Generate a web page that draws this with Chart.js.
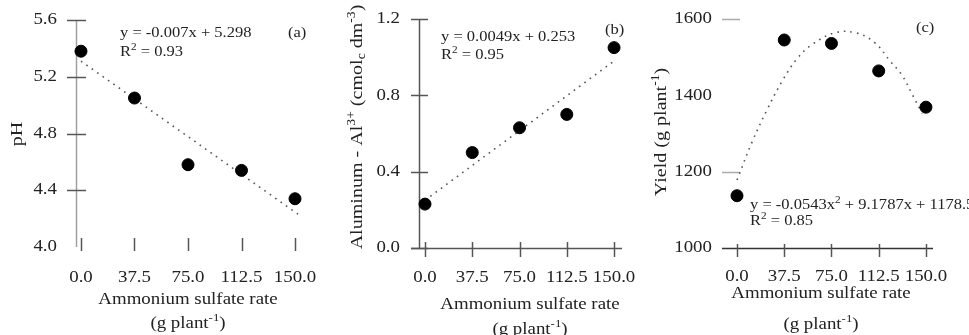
<!DOCTYPE html>
<html><head><meta charset="utf-8">
<script src="https://cdn.jsdelivr.net/npm/chart.js@4"></script>
<style>
html,body{margin:0;padding:0;background:#fff;}
#wrap{position:relative;width:969px;height:335px;overflow:hidden;background:#fff;}
canvas{position:absolute;top:0;}
</style>
</head><body><div id="wrap">
<canvas id="ca" width="320" height="335" style="left:0px"></canvas>
<canvas id="cb" width="320" height="335" style="left:320px"></canvas>
<canvas id="cc" width="329" height="335" style="left:640px"></canvas>
</div>
<script>
// ---------- data ----------
const rates = [0, 37.5, 75, 112.5, 150];
const xTickValues = [0, 37.5, 75, 112.5, 150];

const phValues = [5.38, 5.05, 4.58, 4.54, 4.34];
const phTrendX = [0, 152.3];
const phTrendY = [5.31, 4.23];
const phTicks = [4.0, 4.4, 4.8, 5.2, 5.6];

const alValues = [0.23, 0.50, 0.63, 0.70, 1.05];
const alTrendX = [0, 150];
const alTrendY = [0.25, 0.98];
const alTicks = [0.0, 0.4, 0.8, 1.2];

const yieldValues = [1137, 1545, 1536, 1464, 1369];
const yieldTrendX = [0, 12, 24, 36, 48, 60, 78, 94, 109, 122, 131, 139, 147];
const yieldTrendY = [1178, 1278, 1363, 1438, 1497, 1534, 1564, 1564, 1539, 1488, 1453, 1403, 1353];
const yieldTicks = [1000, 1200, 1400, 1600];

const xTitle1 = [{t:'Ammonium sulfate rate'}];
const xTitle2 = [{t:'(g plant'},{t:'-1',s:'sup'},{t:')'}];

// ---------- helpers ----------
const FONT = '"Liberation Serif", "Times New Roman", serif';
const TXT = '#222';
const STRETCH = 1.18;

function richWidth(ctx, segs, size){
  let w = 0;
  for (const s of segs){
    ctx.font = (s.s ? size*0.68 : size) + 'px ' + FONT;
    w += ctx.measureText(s.t).width;
  }
  return w;
}
function drawRich(ctx, segs, x, y, size, align){
  const w = richWidth(ctx, segs, size);
  ctx.save();
  ctx.translate(x, y);
  ctx.scale(STRETCH, 1);
  let cx = align === 'center' ? -w/2 : (align === 'right' ? -w : 0);
  ctx.textBaseline = 'middle';
  ctx.textAlign = 'left';
  ctx.fillStyle = TXT;
  for (const s of segs){
    const fs = s.s ? size*0.68 : size;
    ctx.font = fs + 'px ' + FONT;
    let dy = 0;
    if (s.s === 'sup') dy = -size*0.35;
    if (s.s === 'sub') dy = size*0.25;
    ctx.fillText(s.t, cx, dy);
    cx += ctx.measureText(s.t).width;
  }
  ctx.restore();
}

function pairs(xs, ys){ return xs.map((x,i)=>({x:x, y:ys[i]})); }

function makePanel(canvasId, p){
  const plugin = {
    id: 'deco_' + canvasId,
    beforeDatasetsDraw(chart){
      const ctx = chart.ctx, xs = chart.scales.x, ys = chart.scales.y, a = chart.chartArea;
      ctx.save();
      if (p.yLine){
        ctx.strokeStyle = p.yLine.color; ctx.lineWidth = p.yLine.width;
        ctx.beginPath(); ctx.moveTo(a.left + 0.5, a.top); ctx.lineTo(a.left + 0.5, a.bottom); ctx.stroke();
      }
      ctx.strokeStyle = p.yTick.color; ctx.lineWidth = 1.5;
      for (const v of p.yTicks){
        if (p.yTick.skip && p.yTick.skip.includes(v)) continue;
        const py = Math.round(ys.getPixelForValue(v)) + 0.5;
        ctx.beginPath(); ctx.moveTo(a.left - p.yTick.l, py); ctx.lineTo(a.left + p.yTick.r, py); ctx.stroke();
      }
      if (p.xLine){
        ctx.strokeStyle = p.xLine.color; ctx.lineWidth = p.xLine.width;
        ctx.beginPath(); ctx.moveTo(a.left - p.xLine.ext, a.bottom + 0.5); ctx.lineTo(a.right, a.bottom + 0.5); ctx.stroke();
      }
      ctx.strokeStyle = p.xTick.color; ctx.lineWidth = 1.5;
      for (const v of xTickValues){
        const px = Math.round(xs.getPixelForValue(v)) + 0.5;
        ctx.beginPath(); ctx.moveTo(px, a.bottom - p.xTick.up); ctx.lineTo(px, a.bottom + p.xTick.down); ctx.stroke();
      }
      ctx.restore();
    },
    afterDraw(chart){
      const ctx = chart.ctx, xs = chart.scales.x, ys = chart.scales.y, a = chart.chartArea;
      ctx.save();
      for (const v of p.yTicks){
        drawRich(ctx, [{t:p.yFmt(v)}], a.left - p.yLabelGap, ys.getPixelForValue(v), p.tickSize, 'right');
      }
      for (const v of xTickValues){
        drawRich(ctx, [{t:v.toFixed(1)}], xs.getPixelForValue(v), p.xLabelY, p.tickSize, 'center');
      }
      drawRich(ctx, xTitle1, p.xTitleX, p.xTitleY1, p.titleSize, 'center');
      drawRich(ctx, xTitle2, p.xTitleX, p.xTitleY2, p.titleSize, 'center');
      ctx.save();
      ctx.translate(p.yTitleX, p.yTitleY);
      ctx.rotate(-Math.PI/2);
      drawRich(ctx, p.yTitle, 0, 0, p.yTitleSize, 'center');
      ctx.restore();
      drawRich(ctx, p.eq, p.eqX, p.eqY, p.eqSize, 'left');
      drawRich(ctx, p.r2, p.eqX, p.r2Y, p.eqSize, 'left');
      drawRich(ctx, [{t:p.tag}], p.tagX, p.tagY, p.eqSize, 'left');
      ctx.restore();
    }
  };

  return new Chart(document.getElementById(canvasId), {
    type: 'scatter',
    data: {
      datasets: [
        {
          data: pairs(p.trendX, p.trendY),
          showLine: true,
          borderColor: '#555',
          borderWidth: 1.6,
          borderDash: [1.6, 5],
          pointRadius: 0,
          tension: p.tension,
          fill: false,
          clip: false,
          order: 2
        },
        {
          data: pairs(rates, p.values),
          backgroundColor: '#000',
          borderColor: '#000',
          pointRadius: 6,
          pointHoverRadius: 6,
          showLine: false,
          clip: false,
          order: 1
        }
      ]
    },
    options: {
      responsive: false,
      animation: false,
      devicePixelRatio: 1,
      events: [],
      layout: { padding: { top: p.padTop, right: p.padRight, left: 0, bottom: 0 } },
      plugins: { legend: { display: false }, tooltip: { enabled: false }, title: { display: false } },
      scales: {
        x: {
          type: 'linear', min: p.xMin, max: p.xMax,
          grid: { display: false }, border: { display: false },
          ticks: { display: false },
          afterFit(s){ s.height = p.xAxisH; }
        },
        y: {
          type: 'linear', min: p.yMin, max: p.yMax,
          grid: { display: false }, border: { display: false },
          ticks: { display: false },
          afterFit(s){ s.width = p.yAxisW; }
        }
      }
    },
    plugins: [plugin]
  });
}

const TICK = 16, TITLE = 16, YTITLE = 17, EQ = 14;

// Panel (a)
makePanel('ca', {
  values: phValues, trendX: phTrendX, trendY: phTrendY, tension: 0,
  yTicks: phTicks, yFmt: v => v.toFixed(1), yMin: 4.0, yMax: 5.6,
  xMin: -3.5, xMax: 153.5,
  padTop: 20, padRight: 20, yAxisW: 76, xAxisH: 88,
  yLine: { color: '#a0a0a0', width: 1.5 },
  yTick: { color: '#555', l: 9, r: 10, skip: [4.0] },
  xLine: null,
  xTick: { color: '#555', up: 9, down: 4 },
  tickSize: TICK, titleSize: TITLE, yTitleSize: YTITLE, eqSize: EQ,
  yLabelGap: 19, xLabelY: 278,
  xTitleX: 188, xTitleY1: 300, xTitleY2: 324,
  yTitle: [{t:'pH'}], yTitleX: 18, yTitleY: 134,
  eq: [{t:'y = -0.007x + 5.298'}], r2: [{t:'R'},{t:'2',s:'sup'},{t:' = 0.93'}],
  eqX: 120, eqY: 33, r2Y: 52, tag: '(a)', tagX: 288, tagY: 33
});

// Panel (b)
makePanel('cb', {
  values: alValues, trendX: alTrendX, trendY: alTrendY, tension: 0,
  yTicks: alTicks, yFmt: v => v.toFixed(1), yMin: 0, yMax: 1.2,
  xMin: -4.76, xMax: 156.3,
  padTop: 19, padRight: 18, yAxisW: 99, xAxisH: 87,
  yLine: { color: '#555', width: 1.5 },
  yTick: { color: '#555', l: 8, r: 9 },
  xLine: { color: '#555', width: 1.5, ext: 8 },
  xTick: { color: '#555', up: 6, down: 9 },
  tickSize: TICK, titleSize: TITLE, yTitleSize: YTITLE, eqSize: EQ,
  yLabelGap: 19, xLabelY: 278,
  xTitleX: 210, xTitleY1: 305, xTitleY2: 330,
  yTitle: [{t:'Aluminum - Al'},{t:'3+',s:'sup'},{t:' (cmol'},{t:'c',s:'sub'},{t:' dm'},{t:'-3',s:'sup'},{t:')'}],
  yTitleX: 38, yTitleY: 127,
  eq: [{t:'y = 0.0049x + 0.253'}], r2: [{t:'R'},{t:'2',s:'sup'},{t:' = 0.95'}],
  eqX: 121, eqY: 37, r2Y: 55, tag: '(b)', tagX: 285, tagY: 30
});

// Panel (c)
makePanel('cc', {
  values: yieldValues, trendX: yieldTrendX, trendY: yieldTrendY, tension: 0.4,
  yTicks: yieldTicks, yFmt: v => String(v), yMin: 1000, yMax: 1600,
  xMin: -4.76, xMax: 155.6,
  padTop: 19, padRight: 36, yAxisW: 91, xAxisH: 87,
  yLine: null,
  yTick: { color: '#aaa', l: 9, r: 9, skip: [1000, 1400] },
  xLine: { color: '#333', width: 1.5, ext: 9 },
  xTick: { color: '#555', up: 4, down: 9 },
  tickSize: TICK, titleSize: TITLE, yTitleSize: YTITLE, eqSize: EQ,
  yLabelGap: 19, xLabelY: 277,
  xTitleX: 181, xTitleY1: 294, xTitleY2: 325,
  yTitle: [{t:'Yield (g plant'},{t:'-1',s:'sup'},{t:')'}], yTitleX: 22, yTitleY: 132,
  eq: [{t:'y = -0.0543x'},{t:'2',s:'sup'},{t:' + 9.1787x + 1178.5'}], r2: [{t:'R'},{t:'2',s:'sup'},{t:' = 0.85'}],
  eqX: 110, eqY: 205, r2Y: 221, tag: '(c)', tagX: 276, tagY: 28
});
</script>
</body></html>
